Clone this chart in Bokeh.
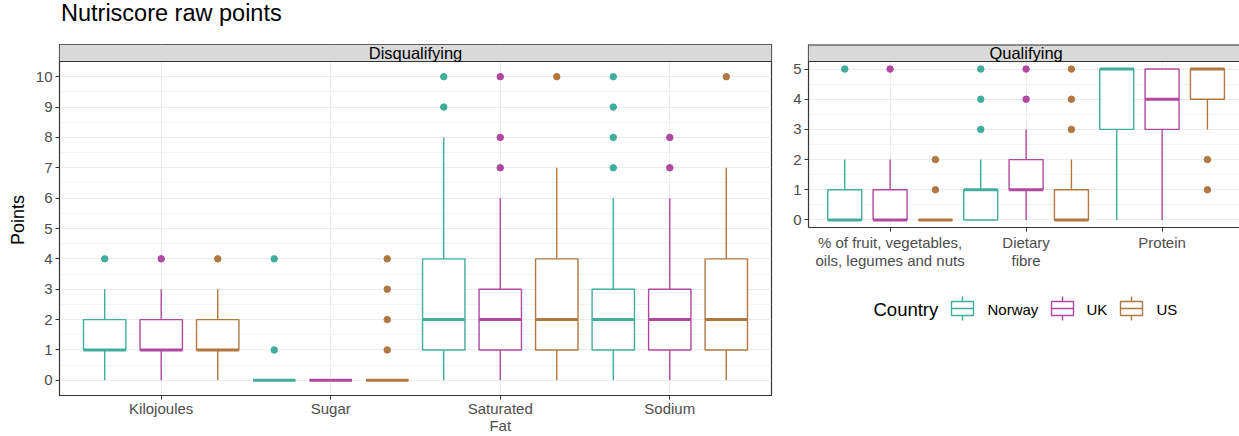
from bokeh.plotting import figure
from bokeh.models import Range1d, FixedTicker, BoxAnnotation, Span, Label, Div
from bokeh.layouts import row, column
from bokeh.embed import file_html
from bokeh.resources import INLINE

# ---------------- data ----------------
countries = ["Norway", "UK", "US"]
colors = ["#40AE9A", "#B0489F", "#B07840"]

dis_categories = ["Kilojoules", "Sugar", "Saturated\nFat", "Sodium"]
dis_lower = {"Norway": [0, 0, 0, 0], "UK": [0, 0, 0, 0], "US": [0, 0, 0, 0]}
dis_q1 = {"Norway": [1, 0, 1, 1], "UK": [1, 0, 1, 1], "US": [1, 0, 1, 1]}
dis_median = {"Norway": [1, 0, 2, 2], "UK": [1, 0, 2, 2], "US": [1, 0, 2, 2]}
dis_q3 = {"Norway": [2, 0, 4, 3], "UK": [2, 0, 3, 3], "US": [2, 0, 4, 4]}
dis_upper = {"Norway": [3, 0, 8, 6], "UK": [3, 0, 6, 6], "US": [3, 0, 7, 7]}
dis_outliers = {
    "Norway": [[4], [1, 4], [9, 10], [7, 8, 9, 10]],
    "UK": [[4], [], [7, 8, 10], [7, 8]],
    "US": [[4], [1, 2, 3, 4], [10], [10]],
}
dis_yticks = list(range(0, 11))

qual_categories = ["% of fruit, vegetables,\noils, legumes and nuts", "Dietary\nfibre", "Protein"]
qual_lower = {"Norway": [0, 0, 0], "UK": [0, 0, 0], "US": [0, 0, 3]}
qual_q1 = {"Norway": [0, 0, 3], "UK": [0, 1, 3], "US": [0, 0, 4]}
qual_median = {"Norway": [0, 1, 5], "UK": [0, 1, 4], "US": [0, 0, 5]}
qual_q3 = {"Norway": [1, 1, 5], "UK": [1, 2, 5], "US": [0, 1, 5]}
qual_upper = {"Norway": [2, 2, 5], "UK": [2, 3, 5], "US": [0, 2, 5]}
qual_outliers = {
    "Norway": [[5], [3, 4, 5], []],
    "UK": [[5], [4, 5], []],
    "US": [[1, 2], [3, 4, 5], [1, 2]],
}
qual_yticks = list(range(0, 6))

title_text = "Nutriscore raw points"

# ---------------- style ----------------
FONT = "Liberation Sans"
GRID = "#EBEBEB"
DARK = "#333333"
TICKTXT = "#4D4D4D"
offsets = [-1 / 3, 0, 1 / 3]
BOX_W = 0.25
LW = 1.4
STRIP_PX = 17
TITLE_H = 30


def style_axes(p, ticks):
    p.yaxis.ticker = FixedTicker(ticks=ticks, minor_ticks=[t + 0.5 for t in ticks[:-1]])
    p.ygrid.grid_line_color = GRID
    p.ygrid.grid_line_width = 1
    p.ygrid.minor_grid_line_color = GRID
    p.ygrid.minor_grid_line_width = 0.6
    p.xgrid.grid_line_color = GRID
    p.xgrid.grid_line_width = 1
    for ax in (p.xaxis[0], p.yaxis[0]):
        ax.major_tick_out = 4
        ax.major_tick_in = 0
        ax.minor_tick_out = 0
        ax.minor_tick_in = 0
        ax.major_tick_line_color = DARK
        ax.axis_line_color = DARK
        ax.major_label_text_color = TICKTXT
        ax.major_label_text_font = FONT
        ax.major_label_text_font_size = "15px"
        ax.major_label_text_line_height = 1.0
        ax.major_label_standoff = 3
    p.xaxis.major_label_standoff = 0
    p.background_fill_color = "white"
    p.border_fill_color = "white"


def draw_boxes(p, ncat, lower, q1, med, q3, upper, outl):
    for ci, c in enumerate(countries):
        col = colors[ci]
        xs = [i + 1 + offsets[ci] for i in range(ncat)]
        p.segment(x0=xs, y0=q3[c], x1=xs, y1=upper[c], line_color=col, line_width=LW)
        p.segment(x0=xs, y0=lower[c], x1=xs, y1=q1[c], line_color=col, line_width=LW)
        p.vbar(x=xs, bottom=q1[c], top=q3[c], width=BOX_W, fill_color="white",
               line_color=col, line_width=LW)
        p.segment(x0=[x - BOX_W / 2 for x in xs], y0=med[c], x1=[x + BOX_W / 2 for x in xs],
                  y1=med[c], line_color=col, line_width=3)
        ox, oy = [], []
        for i, vals in enumerate(outl[c]):
            for v in vals:
                ox.append(xs[i])
                oy.append(v)
        p.scatter(ox, oy, size=6.5, fill_color=col, line_color=col)


def add_strip(p, text, lo, hi, top, xc):
    p.add_layout(BoxAnnotation(bottom=hi, top=top, fill_color="#D9D9D9", fill_alpha=1,
                               line_color=None))
    p.add_layout(Span(location=hi, dimension="width", line_color=DARK, line_width=1.2))
    p.add_layout(Label(x=xc, y=(hi + top) / 2, text=text, text_align="center",
                       text_baseline="middle", text_font=FONT, text_font_size="16.5px",
                       text_color="black"))


# ---------------- title ----------------
title_div = Div(text=title_text, width=1239, height=TITLE_H,
                styles={"font-family": FONT, "font-size": "23.5px", "color": "black",
                        "padding-left": "61px", "padding-top": "0px", "margin": "0",
                        "line-height": "27px"})

# ---------------- left panel ----------------
L_PANEL_PX = 334
lo, hi = -0.5, 10.5
ytop = hi + (hi - lo) * STRIP_PX / L_PANEL_PX
x_lo = 0.4
pl = figure(width=780, height=436 - TITLE_H, output_backend="svg", toolbar_location=None,
            title=None,
            x_range=Range1d(x_lo, len(dis_categories) + 0.6), y_range=Range1d(lo, ytop),
            min_border_left=59, min_border_right=9, min_border_top=44 - TITLE_H,
            min_border_bottom=41)
style_axes(pl, dis_yticks)
pl.xaxis.ticker = FixedTicker(ticks=list(range(1, len(dis_categories) + 1)))
pl.xaxis.major_label_overrides = {i + 1: n for i, n in enumerate(dis_categories)}
pl.yaxis.axis_label = "Points"
pl.yaxis.axis_label_text_font = FONT
pl.yaxis.axis_label_text_font_size = "18px"
pl.yaxis.axis_label_text_font_style = "normal"
pl.yaxis.axis_label_text_color = "black"
pl.yaxis.axis_label_standoff = 5
pl.outline_line_color = DARK
pl.outline_line_width = 1.2
draw_boxes(pl, len(dis_categories), dis_lower, dis_q1, dis_median, dis_q3, dis_upper, dis_outliers)
add_strip(pl, "Disqualifying", lo, hi, ytop, (x_lo + len(dis_categories) + 0.6) / 2)

# ---------------- right panel ----------------
R_PANEL_PX = 166
R_UNIT_PX = 136
R_FRAME_W = 431
rlo, rhi = -0.25, 5.25
rtop = rhi + (rhi - rlo) * STRIP_PX / R_PANEL_PX
xs0 = 0.4
pr = figure(width=459, height=280 - TITLE_H, output_backend="svg", toolbar_location=None,
            title=None,
            x_range=Range1d(xs0, xs0 + R_FRAME_W / R_UNIT_PX), y_range=Range1d(rlo, rtop),
            min_border_left=28, min_border_right=0, min_border_top=44 - TITLE_H,
            min_border_bottom=53)
style_axes(pr, qual_yticks)
pr.xaxis.ticker = FixedTicker(ticks=list(range(1, len(qual_categories) + 1)))
pr.xaxis.major_label_overrides = {i + 1: n for i, n in enumerate(qual_categories)}
pr.xaxis.major_label_text_line_height = 1.07
pr.xaxis.major_label_standoff = 2
pr.outline_line_color = None
pr.xaxis.axis_line_width = 1.2
pr.yaxis.axis_line_width = 1.2
draw_boxes(pr, len(qual_categories), qual_lower, qual_q1, qual_median, qual_q3, qual_upper, qual_outliers)
add_strip(pr, "Qualifying", rlo, rhi, rtop, (xs0 + len(qual_categories) + 0.6) / 2)
pr.add_layout(Span(location=rtop, dimension="width", line_color=DARK, line_width=2))

# ---------------- legend ----------------
lg = figure(width=459, height=156, output_backend="svg", toolbar_location=None, title=None,
            x_range=Range1d(28, 459), y_range=Range1d(156, 0),
            min_border_left=28, min_border_right=0, min_border_top=0, min_border_bottom=0)
lg.axis.visible = False
lg.grid.visible = False
lg.outline_line_color = None
lg.border_fill_color = "white"
key_x = [182, 282, 351]
lab_x = [207, 306, 376]
ky = 28
lg.add_layout(Label(x=93, y=ky + 1, text="Country", text_font=FONT, text_font_size="18.5px",
                    text_baseline="middle", text_color="black"))
for i, c in enumerate(countries):
    cx = key_x[i]
    lg.segment(x0=[cx, cx], y0=[ky - 12, ky + 7], x1=[cx, cx], y1=[ky - 7, ky + 12],
               line_color=colors[i], line_width=LW)
    lg.quad(left=[cx - 11], right=[cx + 11], top=[ky - 7], bottom=[ky + 7],
            fill_color="white", line_color=colors[i], line_width=LW)
    lg.segment(x0=[cx - 11], y0=[ky], x1=[cx + 11], y1=[ky], line_color=colors[i], line_width=LW)
    lg.add_layout(Label(x=lab_x[i], y=ky + 1, text=c, text_font=FONT, text_font_size="15px",
                        text_baseline="middle", text_color="black"))

layout = column(title_div, row(pl, column(pr, lg)))
open("out.html", "w").write(file_html(layout, INLINE))
